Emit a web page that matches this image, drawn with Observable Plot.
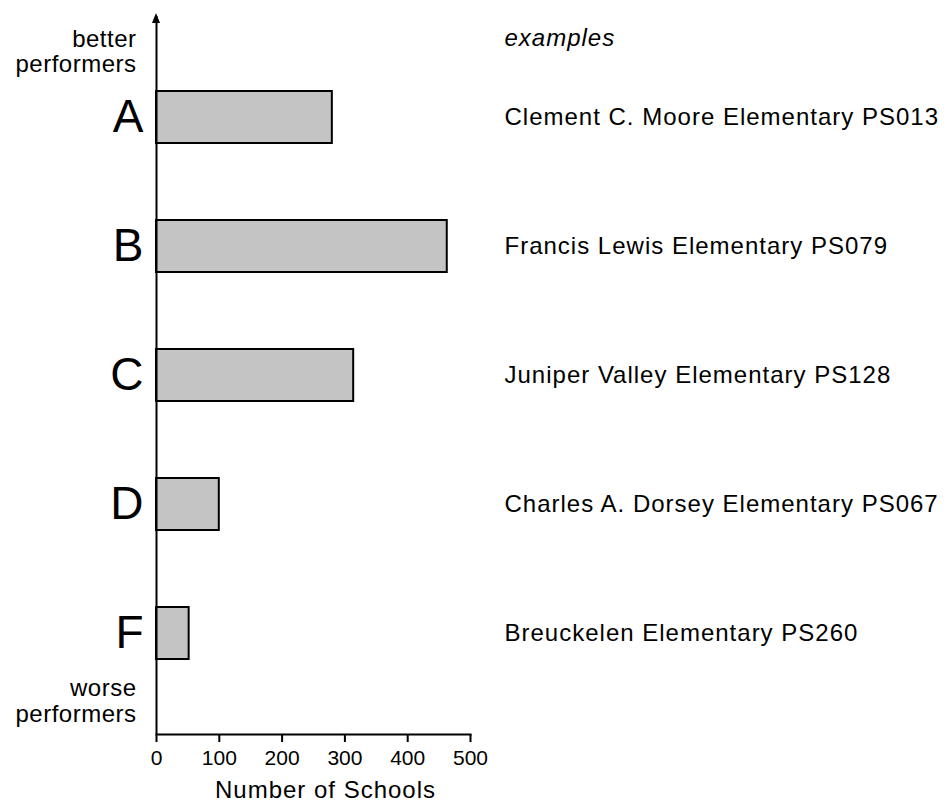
<!DOCTYPE html>
<html>
<head>
<meta charset="utf-8">
<script src="https://cdn.jsdelivr.net/npm/d3@7"></script>
<script src="https://cdn.jsdelivr.net/npm/@observablehq/plot@0.6"></script>
<style>
  html, body { margin: 0; padding: 0; background: #fff; }
</style>
</head>
<body>
<div id="chart"></div>
<script>
const grades = ["A", "B", "C", "D", "F"];
const counts = [280, 463, 314, 100, 52];
const schools = [
  "Clement C. Moore Elementary PS013",
  "Francis Lewis Elementary PS079",
  "Juniper Valley Elementary PS128",
  "Charles A. Dorsey Elementary PS067",
  "Breuckelen Elementary PS260"
];
const xTicks = [0, 100, 200, 300, 400, 500];
const topLabel = "better\nperformers";
const bottomLabel = "worse\nperformers";
const examplesLabel = "examples";
const xLabel = "Number of Schools";

const data = grades.map((g, i) => ({grade: g, count: counts[i], school: schools[i]}));

const plot = Plot.plot({
  width: 945,
  height: 806,
  marginLeft: 156,
  marginRight: 475,
  marginTop: 16,
  marginBottom: 72,
  style: {fontFamily: "'Liberation Sans', Arial, sans-serif", background: "#fff", color: "#000"},
  x: {domain: [0, 500]},
  y: {type: "band", domain: grades, paddingInner: 0.6, paddingOuter: 0.57},
  marks: [
    Plot.barX(data, {x: "count", y: "grade", fill: "#c4c4c4", stroke: "#000", strokeWidth: 2}),
    Plot.ruleX([0], {stroke: "#000", strokeWidth: 2}),
    Plot.frame({anchor: "bottom", stroke: "#000", strokeWidth: 2}),
    Plot.axisX({ticks: xTicks, tickSize: 8, tickPadding: 8, fontSize: 21, strokeWidth: 2, label: null}),
    Plot.axisY({tickSize: 0, tickPadding: 13, fontSize: 46, label: null, ariaDescription: "grades"}),
    Plot.text(data, {y: "grade", text: "school", frameAnchor: "right", dx: 34, textAnchor: "start", lineAnchor: "middle", fontSize: 24, ariaDescription: "spaced"}),
    Plot.text([examplesLabel], {frameAnchor: "top-right", dx: 34, dy: 22, textAnchor: "start", lineAnchor: "middle", fontSize: 24, fontStyle: "italic", ariaDescription: "spaced"}),
    Plot.text([topLabel], {frameAnchor: "top-left", dx: -20, dy: 35, textAnchor: "end", lineAnchor: "middle", fontSize: 24, lineHeight: 1.05, ariaDescription: "spaced-half"}),
    Plot.text([bottomLabel], {frameAnchor: "bottom-left", dx: -20, dy: -33.6, textAnchor: "end", lineAnchor: "middle", fontSize: 24, lineHeight: 1.05, ariaDescription: "spaced-half"}),
    Plot.text([xLabel], {frameAnchor: "bottom", dx: 12, dy: 56, lineAnchor: "middle", fontSize: 24, ariaDescription: "spaced"})
  ]
});

// slightly wider lettering, as in the reference
const svg = d3.select(plot);
svg.selectAll('g[aria-description="spaced"] text, g[aria-description="spaced"] tspan').attr("letter-spacing", "1px");
svg.selectAll('g[aria-description="spaced-half"] text, g[aria-description="spaced-half"] tspan').attr("letter-spacing", "0.5px");
svg.selectAll('g[aria-description="grades"] text').attr("letter-spacing", "0px");

// arrowhead at the top of the vertical axis
const x0 = plot.scale("x").apply(0);
svg.append("path")
  .attr("d", `M${x0 - 4},23 L${x0},13 L${x0 + 4},23 Z`)
  .attr("fill", "#000");

document.getElementById("chart").appendChild(plot);
</script>
</body>
</html>
